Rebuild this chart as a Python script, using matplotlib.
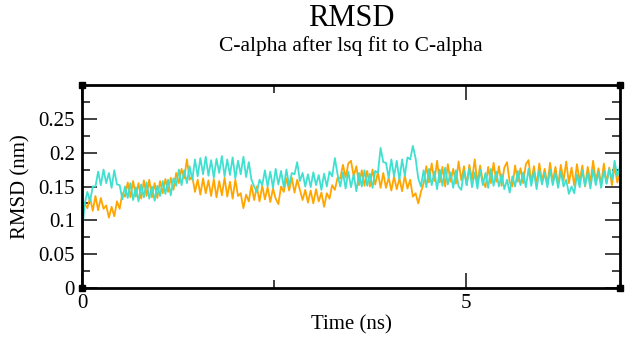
import numpy as np
import matplotlib
matplotlib.use("Agg")
import matplotlib.pyplot as plt

# ---- data ----
t_start, t_end = 0.0, 7.0
cyan_rmsd = [
    0.078, 0.125, 0.142, 0.128, 0.150,
    0.150, 0.172, 0.152, 0.175, 0.155, 0.170, 0.148, 0.174, 0.153,
    0.152, 0.131, 0.150, 0.133, 0.155, 0.130, 0.149, 0.128, 0.153, 0.134, 0.156, 0.132, 0.150, 0.129, 0.151,
    0.136, 0.158, 0.139, 0.160, 0.137, 0.162,
    0.151, 0.175, 0.152, 0.174, 0.155, 0.180, 0.160,
    0.190, 0.165, 0.192, 0.168, 0.194, 0.166, 0.189, 0.163, 0.191, 0.170, 0.195, 0.165, 0.190, 0.167, 0.193, 0.162, 0.188, 0.168, 0.194, 0.164, 0.186,
    0.160, 0.150, 0.142, 0.160,
    0.152, 0.174, 0.150, 0.172, 0.148, 0.176, 0.153, 0.173, 0.149, 0.175, 0.151, 0.170, 0.168, 0.186,
    0.158, 0.170, 0.150, 0.168, 0.149, 0.171, 0.152, 0.167, 0.145, 0.169, 0.150, 0.172, 0.165, 0.192,
    0.168, 0.150, 0.171, 0.147, 0.172, 0.149, 0.168, 0.143, 0.170, 0.150, 0.174, 0.151, 0.169, 0.148, 0.173, 0.170,
    0.207, 0.186,
    0.185, 0.163, 0.190, 0.165, 0.188, 0.160, 0.190, 0.166, 0.193, 0.190,
    0.210, 0.192,
    0.162,
    0.150, 0.174, 0.149, 0.176, 0.152, 0.172, 0.146, 0.175, 0.151, 0.178,
    0.153, 0.171, 0.148, 0.174, 0.150, 0.145, 0.173, 0.152, 0.177, 0.149,
    0.171, 0.147, 0.175, 0.152, 0.170, 0.148, 0.176, 0.151, 0.172, 0.150,
    0.168, 0.146, 0.160, 0.141, 0.165, 0.150, 0.173, 0.152, 0.171, 0.149,
    0.176, 0.151, 0.172, 0.146, 0.174, 0.153, 0.170, 0.149, 0.175, 0.152,
    0.170, 0.148, 0.172, 0.150, 0.160, 0.139, 0.150, 0.140, 0.168, 0.149,
    0.174, 0.151, 0.170, 0.147, 0.175, 0.152, 0.171, 0.148, 0.173, 0.154,
    0.176, 0.160, 0.188, 0.165, 0.180,
]
orange_rmsd = [
    0.104, 0.125, 0.118,
    0.134, 0.114, 0.136, 0.115, 0.133, 0.117,
    0.122, 0.104, 0.120, 0.106,
    0.128, 0.117, 0.140, 0.135,
    0.156, 0.134, 0.158, 0.135, 0.155, 0.132, 0.159, 0.136, 0.160, 0.134, 0.155, 0.133,
    0.158, 0.140, 0.161, 0.142, 0.163, 0.145,
    0.170, 0.155, 0.176, 0.162, 0.190, 0.160, 0.165,
    0.142, 0.160, 0.138, 0.162, 0.140, 0.159, 0.136, 0.161, 0.134, 0.158, 0.137, 0.163, 0.135, 0.157, 0.132, 0.160, 0.136, 0.140,
    0.118, 0.138, 0.128,
    0.152, 0.130, 0.150, 0.128, 0.151, 0.131, 0.149, 0.127, 0.147, 0.132,
    0.124,
    0.150, 0.142, 0.162, 0.144, 0.163, 0.141, 0.160, 0.145,
    0.130, 0.145, 0.126, 0.144, 0.125, 0.146, 0.128, 0.141, 0.120, 0.140, 0.132,
    0.152, 0.145, 0.163,
    0.162, 0.182, 0.163, 0.184, 0.188, 0.165, 0.180,
    0.152, 0.174, 0.151, 0.173, 0.150, 0.175, 0.153, 0.171, 0.148, 0.170,
    0.148, 0.163, 0.144, 0.165, 0.146, 0.162, 0.143, 0.166, 0.147, 0.160,
    0.135, 0.140, 0.125, 0.142,
    0.155, 0.180, 0.156, 0.184, 0.158, 0.188, 0.156, 0.179, 0.150, 0.183,
    0.157, 0.176, 0.154, 0.187, 0.159, 0.180, 0.152, 0.182, 0.160, 0.190,
    0.155, 0.181, 0.158, 0.149, 0.179, 0.155, 0.185, 0.157, 0.180, 0.151,
    0.178, 0.186, 0.156, 0.150, 0.181, 0.157, 0.177, 0.155, 0.183, 0.189,
    0.156, 0.180, 0.151, 0.184, 0.158, 0.176, 0.153, 0.185, 0.157, 0.179,
    0.152, 0.182, 0.158, 0.187, 0.155, 0.178, 0.151, 0.183, 0.157, 0.181,
    0.150, 0.179, 0.156, 0.188, 0.158, 0.177, 0.153, 0.184, 0.155, 0.178,
    0.152, 0.180, 0.156, 0.170,
]
time_ns = np.linspace(t_start, t_end, len(cyan_rmsd))
time_ns_o = np.linspace(t_start, t_end, len(orange_rmsd))

x_ticks = [0, 5]
y_ticks = [0, 0.05, 0.1, 0.15, 0.2, 0.25]
y_tick_labels = ["0", "0.05", "0.1", "0.15", "0.2", "0.25"]

title = "RMSD"
subtitle = "C-alpha after lsq fit to C-alpha"
xlabel = "Time (ns)"
ylabel = "RMSD (nm)"

# ---- figure ----
plt.rcParams['font.family'] = ['Liberation Serif', 'DejaVu Serif']
fig = plt.figure(figsize=(6.25, 3.41), dpi=100)
ax = fig.add_axes([82/625, 1-288/341, (620-82)/625, (288-85)/341])

ax.plot(time_ns_o, orange_rmsd, color='#FFA500', lw=1.3)
ax.plot(time_ns, cyan_rmsd, color='#40E0D0', lw=1.3)

ax.set_xlim(0, 7)
ax.set_ylim(0, 0.3)
ax.set_xticks(x_ticks)
ax.set_xticks([2.5], minor=True)
ax.set_yticks(y_ticks)
ax.set_yticklabels(y_tick_labels)
ax.set_yticks([0.025, 0.075, 0.125, 0.175, 0.225, 0.275], minor=True)

ax.tick_params(which='both', direction='in', top=True, right=True,
               labelsize=15, width=1.3, color='#333333')
ax.tick_params(which='major', length=11, pad=5)
ax.tick_params(which='minor', length=6)
ax.tick_params(axis='x', pad=4)
for s in ax.spines.values():
    s.set_linewidth(2.0)

ax.set_xlabel(xlabel, fontsize=15, labelpad=2)
ax.set_ylabel(ylabel, fontsize=15, labelpad=6)

# corner handles
ax.plot([0, 1, 0, 1], [0, 0, 1, 1], 's', color='black', ms=5,
        transform=ax.transAxes, clip_on=False, zorder=5)

fig.text(351/625, 1-18/341, title, ha='center', va='center', fontsize=22)
fig.text(351/625, 1-46/341, subtitle, ha='center', va='center', fontsize=15.5)

fig.savefig('out.png', dpi=100)
